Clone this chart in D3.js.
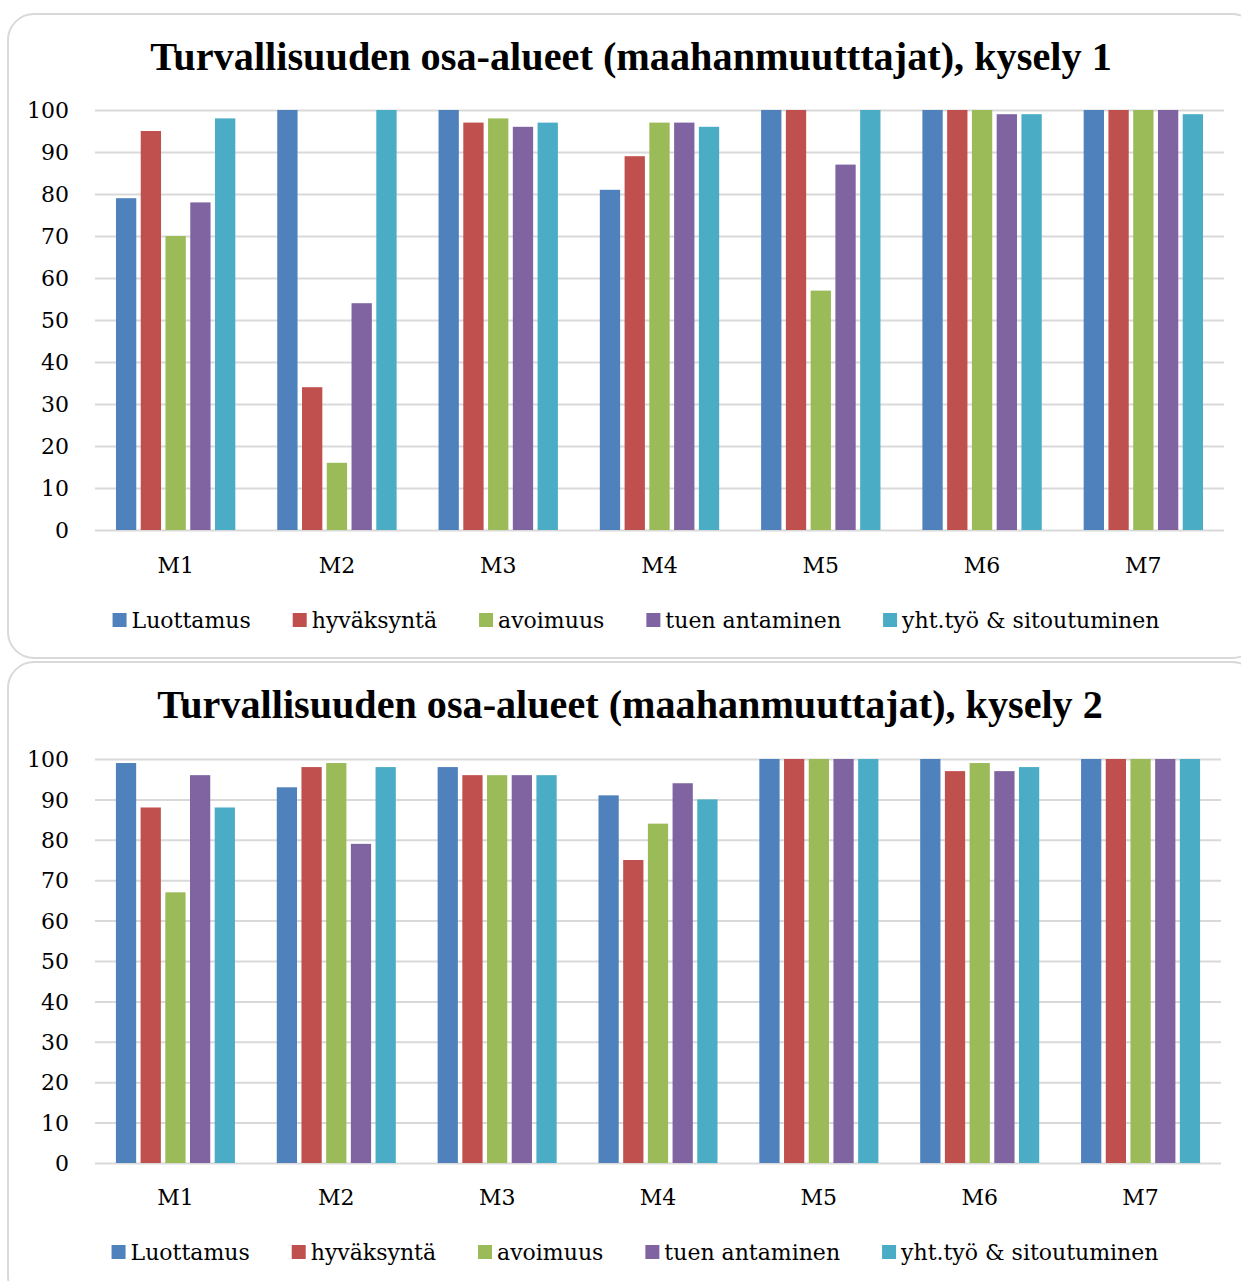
<!DOCTYPE html>
<html><head><meta charset="utf-8">
<script src="https://cdn.jsdelivr.net/npm/d3@7"></script>
<style>
html,body{margin:0;padding:0;background:#fff;}
svg{display:block;}
</style></head>
<body>
<script>
const categories = ["M1","M2","M3","M4","M5","M6","M7"];
const seriesNames = ["Luottamus","hyväksyntä","avoimuus","tuen antaminen","yht.työ & sitoutuminen"];
const seriesColors = ["#4F81BD","#C0504D","#9BBB59","#8064A2","#4BACC6"];
const yTicks = [0,10,20,30,40,50,60,70,80,90,100];

const title1 = "Turvallisuuden osa-alueet (maahanmuutttajat), kysely 1";
const luottamus1   = [79,100,100,81,100,100,100];
const hyvaksynta1  = [95,34,97,89,100,100,100];
const avoimuus1    = [70,16,98,97,57,100,100];
const tuen1        = [78,54,96,97,87,99,100];
const yhttyo1      = [98,100,97,96,100,99,99];

const title2 = "Turvallisuuden osa-alueet (maahanmuuttajat), kysely 2";
const luottamus2   = [99,93,98,91,100,100,100];
const hyvaksynta2  = [88,98,96,75,100,97,100];
const avoimuus2    = [67,99,96,84,100,99,100];
const tuen2        = [96,79,96,94,100,97,100];
const yhttyo2      = [88,98,96,90,100,98,100];

const W = 1241, H = 1281;
const svg = d3.select("body").append("svg").attr("width", W).attr("height", H);
const FONT = "'DejaVu Serif', 'Liberation Serif', serif";
const TITLE_FONT = "'Liberation Serif', 'DejaVu Serif', serif";

function drawChart(cfg, title, series) {
  const g = svg.append("g");
  g.append("rect").attr("x", cfg.px).attr("y", cfg.py).attr("width", cfg.pw).attr("height", cfg.ph)
    .attr("rx", 26).attr("ry", 26).attr("fill", "#fff").attr("stroke", "#d9d9d9").attr("stroke-width", 2);

  // title, fit to target width
  const t = g.append("text").attr("x", cfg.titleX).attr("y", cfg.titleY).attr("text-anchor", "middle")
    .attr("font-family", TITLE_FONT).attr("font-weight", "bold").attr("font-size", 30).attr("fill", "#000").text(title);
  const len = t.node().getComputedTextLength();
  t.attr("font-size", 30 * cfg.titleW / len);

  const x = d3.scaleBand().domain(categories).range([cfg.x0, cfg.x1]).padding(0);
  const xi = d3.scaleBand().domain(d3.range(seriesNames.length))
    .range([x.bandwidth() * 0.13, x.bandwidth() * 0.87]).paddingInner(0.18).paddingOuter(0);
  const y = d3.scaleLinear().domain([0, 100]).range([cfg.yb, cfg.yt]);

  // gridlines
  const yAxis = d3.axisLeft(y).tickValues(yTicks).tickSize(-(cfg.x1 - cfg.x0)).tickPadding(26).tickFormat(d3.format("d"));
  const ga = g.append("g").attr("transform", `translate(${cfg.x0},0)`).call(yAxis);
  ga.select(".domain").remove();
  ga.selectAll(".tick line").attr("stroke", "#d9d9d9").attr("stroke-width", 2);
  ga.selectAll(".tick text").attr("font-family", FONT).attr("font-size", 22).attr("fill", "#000").attr("dy", "0.35em");

  // bars
  series.forEach((vals, si) => {
    g.append("g").selectAll("rect").data(vals).join("rect")
      .attr("x", (d, i) => x(categories[i]) + xi(si))
      .attr("width", xi.bandwidth())
      .attr("y", d => y(d))
      .attr("height", d => y(0) - y(d))
      .attr("fill", seriesColors[si]);
  });

  // x labels
  const xAxis = d3.axisBottom(x).tickSize(0).tickPadding(0);
  const gx = g.append("g").attr("transform", `translate(0,${cfg.xLabelY})`).call(xAxis);
  gx.select(".domain").remove();
  gx.selectAll(".tick text").attr("font-family", FONT).attr("font-size", 22).attr("fill", "#000").attr("dy", 0);

  // legend
  const lg = g.append("g");
  let cx = 0;
  const gap = 42;
  seriesNames.forEach((name, i) => {
    lg.append("rect").attr("x", cx).attr("y", cfg.legY - 7).attr("width", 14).attr("height", 14).attr("fill", seriesColors[i]);
    const tx = lg.append("text").attr("x", cx + 19).attr("y", cfg.legY).attr("dy", "0.35em")
      .attr("font-family", FONT).attr("font-size", 22).attr("fill", "#000").text(name);
    cx += 19 + tx.node().getComputedTextLength() + gap;
  });
  const totalW = cx - gap;
  lg.attr("transform", `translate(${cfg.legCX - totalW / 2},0)`);
}

drawChart({px:8, py:14, pw:1250, ph:644, titleX:631, titleY:70, titleW:962,
  x0:95, x1:1224, yt:110, yb:530, xLabelY:573, legY:620, legCX:636},
  title1, [luottamus1, hyvaksynta1, avoimuus1, tuen1, yhttyo1]);

drawChart({px:8, py:662, pw:1250, ph:640, titleX:630, titleY:718, titleW:946,
  x0:95, x1:1221, yt:759, yb:1163, xLabelY:1205, legY:1252, legCX:635},
  title2, [luottamus2, hyvaksynta2, avoimuus2, tuen2, yhttyo2]);
</script>
</body></html>
